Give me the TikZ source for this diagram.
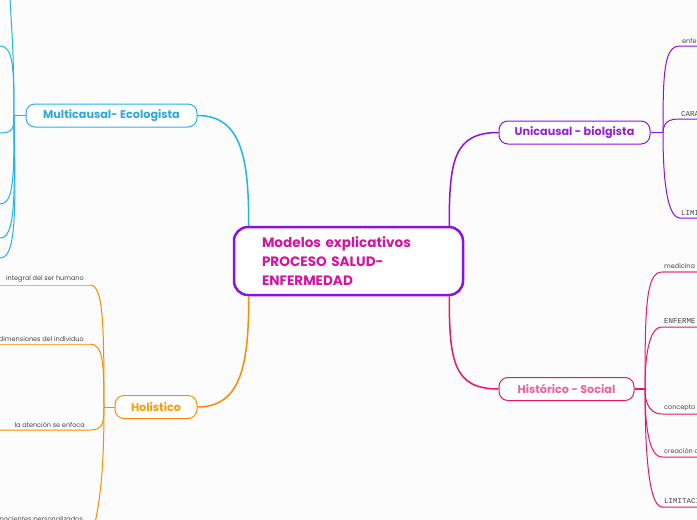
\documentclass[tikz,border=0pt]{standalone}
\usepackage{fontspec}
\setmainfont{Poppins}
\newfontfamily\monofam{Liberation Mono}
\usetikzlibrary{calc}
\definecolor{bgc}{HTML}{FCFCFC}
\definecolor{cyanL}{HTML}{1FB5EE}
\definecolor{cyanT}{HTML}{2CA6E4}
\definecolor{orangeL}{HTML}{FF8A00}
\definecolor{orangeT}{HTML}{FF9A00}
\definecolor{orangeU}{HTML}{FFAA55}
\definecolor{purpleL}{HTML}{8B10E6}
\definecolor{purpleT}{HTML}{9420E0}
\definecolor{pinkL}{HTML}{EE1467}
\definecolor{pinkT}{HTML}{F0609A}
\definecolor{pinkU}{HTML}{F47AA8}
\definecolor{magT}{HTML}{D6139F}
\definecolor{txt}{HTML}{444444}
\begin{document}
\begin{tikzpicture}[x=1pt,y=-1pt,
  topic/.style={draw, line width=1pt, rounded corners=9pt, fill=white,
    minimum height=23pt, inner sep=0pt,
    font=\fontsize{11.2}{13}\selectfont\bfseries},
  mainline/.style={line width=1.5pt},
  childline/.style={line width=1pt},
  lbl/.style={text=txt, inner sep=0pt, font=\fontsize{6.5}{8}\selectfont},
  lblmono/.style={text=txt, inner sep=0pt, font=\monofam\fontsize{7.5}{9}\selectfont}]
\useasboundingbox (0,0) rectangle (697,520);
\fill[bgc] (0,0) rectangle (697,520);
\clip (0,0) rectangle (697,520);

% central node
\node[draw=purpleL, line width=2.5pt, rounded corners=14pt, fill=white,
  minimum width=229pt, minimum height=68pt, text width=173pt, align=left,
  inner xsep=28pt, text=magT, font=\fontsize{13.6}{19}\selectfont\bfseries]
  (c) at (348.5,261) {Modelos explicativos\\PROCESO SALUD-\\ENFERMEDAD};
\coordinate (ctl) at ($(c.north west)+(16,0)$);
\coordinate (ctr) at ($(c.north east)+(-15,0)$);
\coordinate (cbl) at ($(c.south west)+(16,0)$);
\coordinate (cbr) at ($(c.south east)+(-15,0)$);

% main topics
\node[topic, draw=cyanL, text=cyanT, minimum width=171pt] (mc) at (111.5,115.5) {Multicausal- Ecologista};
\node[topic, draw=orangeL, text=orangeT, minimum width=82pt] (ho) at (156,407) {Holistico};
\node[topic, draw=purpleL, text=purpleT, minimum width=151pt] (un) at (574.5,132.5) {Unicausal - biolgista};
\node[topic, draw=pinkL, text=pinkT, minimum width=135pt] (hs) at (566.5,389) {Histórico - Social};

% main connectors
\draw[mainline, cyanL] (mc.east) .. controls +(45,0) and +(0,-65) .. (ctl);
\draw[mainline, orangeL] (ho.east) .. controls +(45,0) and +(0,65) .. (cbl);
\draw[mainline, purpleL] (un.west) .. controls +(-45,0) and +(0,-65) .. (ctr);
\draw[mainline, pinkL] (hs.west) .. controls +(-45,0) and +(0,65) .. (cbr);

% ---- Multicausal children (left, off canvas)
\coordinate (mcb) at (14,115.5);
\draw[childline, cyanL] (mc.west) -- (mcb);
\coordinate (m0) at (10,-2);
\coordinate (m1) at (-2,46);
\coordinate (m2) at (-2,133);
\coordinate (m3) at (-2,204);
\coordinate (m4) at (-2,238);
\coordinate (m5) at (-2,258);
\draw[childline, cyanL] (mcb) .. controls (14,50) and (11,20) .. (m0);
\draw[childline, cyanL] (mcb) .. controls (14,67) and (13,46) .. (0,46) -- (m1);
\draw[childline, cyanL] (mcb) .. controls (14,128) and (13,133) .. (0,133) -- (m2);
\draw[childline, cyanL] (mcb) .. controls (14,177) and (14,204) .. (0,204) -- (m3);
\draw[childline, cyanL] (mcb) .. controls (15,201) and (15,238) .. (0,238) -- (m4);
\draw[childline, cyanL] (mcb) .. controls (16,215) and (16,258) .. (0,258) -- (m5);

% ---- Holistico children
\coordinate (hob) at (104,407);
\draw[childline, orangeL] (ho.west) -- (hob);
\coordinate (h1) at (-2,285);
\coordinate (h2) at (-2,344);
\coordinate (h3) at (-2,430);
\coordinate (h4) at (95,523);
\draw[childline, orangeL] (hob) .. controls (104,321) and (103,285) .. (90,285);
\draw[childline, orangeU] (90,285) -- (h1);
\draw[childline, orangeL] (hob) .. controls (104,363) and (103,344) .. (90,344);
\draw[childline, orangeU] (90,344) -- (h2);
\draw[childline, orangeL] (hob) .. controls (104,423) and (103,430) .. (90,430) -- (h3);
\draw[childline, orangeL] (hob) .. controls (104,470) and (100,500) .. (h4);
\node[lbl, anchor=south east] (ht1) at (84,282.5) {integral del ser humano};
\node[lbl, anchor=south east] (ht2) at (84,341.5) {dimensiones del individuo};
\node[lbl, anchor=south east] (ht3) at (85,427.5) {la atención se enfoca};
\node[lbl, anchor=north east] (ht4) at (83,516.5) {pacientes personalizados};

% ---- Unicausal children
\coordinate (unb) at (663,132.5);
\draw[mainline, purpleL] (un.east) -- (unb);
\coordinate (u1) at (699,46);
\coordinate (u2) at (699,119);
\coordinate (u3) at (699,218);
\draw[childline, purpleL] (unb) .. controls (663,72) and (664,46) .. (680,46) -- (u1);
\draw[childline, purpleL] (unb) .. controls (663,128) and (664,119) .. (678,119) -- (u2);
\draw[childline, purpleL] (unb) .. controls (663,158) and (664,218) .. (680,218) -- (u3);
\node[lbl, anchor=south west] (ut1) at (682,43.5) {enfe};
\node[lblmono, anchor=south west] (ut2) at (681,116.5) {CARA};
\node[lblmono, anchor=south west] (ut3) at (681,215.5) {LIMI};

% ---- Historico children
\coordinate (hsb) at (645,389);
\draw[mainline, pinkL] (hs.east) -- (hsb);
\coordinate (s1) at (699,272);
\coordinate (s2) at (699,327);
\coordinate (s3) at (699,414);
\coordinate (s4) at (699,457);
\coordinate (s5) at (699,507);
\draw[childline, pinkL] (hsb) .. controls (645,307) and (646,272) .. (662,272);
\draw[line width=1.8pt, pinkU] (662,272) -- (s1);
\draw[childline, pinkL] (hsb) .. controls (645,370) and (646,327) .. (662,327) -- (s2);
\draw[childline, pinkL] (hsb) .. controls (645,396) and (646,414) .. (662,414) -- (s3);
\draw[childline, pinkL] (hsb) .. controls (645,410) and (646,457) .. (662,457) -- (s4);
\draw[childline, pinkL] (hsb) .. controls (645,425) and (646,507) .. (662,507) -- (s5);
\node[lbl, anchor=south west] (st1) at (664,268.5) {medicina};
\node[lblmono, anchor=south west] (st2) at (664,324) {ENFERME};
\node[lbl, anchor=south west] (st3) at (664,411) {concepto};
\node[lbl, anchor=south west] (st4) at (664,454) {creación d};
\node[lblmono, anchor=south west] (st5) at (664,504) {LIMITACI};
\end{tikzpicture}
\end{document}
